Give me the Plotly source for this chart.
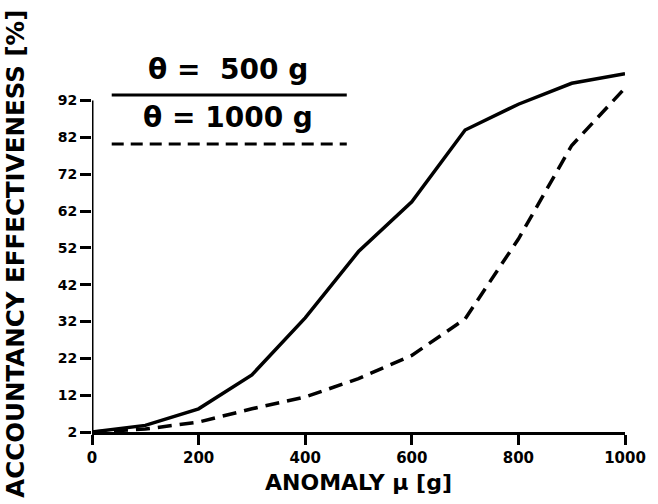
import plotly.graph_objects as go

# Anomaly size (g) and accountancy effectiveness (%) for two threshold values
anomaly = [0, 100, 200, 300, 400, 500, 600, 700, 800, 900, 1000]
eff_500 = [2, 3.8, 8.3, 17.5, 33, 51, 64.5, 84, 91, 96.7, 99.3]
eff_1000 = [2, 2.8, 4.7, 8.3, 11.5, 16.5, 22.8, 32.7, 54.4, 79.8, 95.4]

x_ticks = [0, 200, 400, 600, 800, 1000]
y_ticks = [2, 12, 22, 32, 42, 52, 62, 72, 82, 92]

legend_labels = ["θ =  500 g", "θ = 1000 g"]

FONT = "DejaVu Sans"
INK = "black"

fig = go.Figure()
fig.add_trace(go.Scatter(x=anomaly, y=eff_500, mode="lines",
                         line=dict(color=INK, width=3.5), showlegend=False))
fig.add_trace(go.Scatter(x=anomaly, y=eff_1000, mode="lines",
                         line=dict(color=INK, width=3.5, dash="14px,8px"),
                         showlegend=False))

# vertical axis line only up to the last tick
fig.add_shape(type="line", xref="x", yref="y", x0=0, x1=0, y0=2, y1=92,
              line=dict(color=INK, width=3))

# hand-drawn key in the upper left corner
fig.add_shape(type="line", xref="paper", yref="paper", x0=0.037, x1=0.478,
              y0=0.880, y1=0.880, line=dict(color=INK, width=3))
fig.add_shape(type="line", xref="paper", yref="paper", x0=0.037, x1=0.478,
              y0=0.752, y1=0.752, line=dict(color=INK, width=3, dash="12px,7px"))
for label, ly in zip(legend_labels, [0.946, 0.820]):
    fig.add_annotation(text=label, xref="paper", yref="paper",
                       x=0.255, y=ly, xanchor="center", yanchor="middle",
                       showarrow=False,
                       font=dict(family=FONT, size=28, color=INK, weight="bold"))

# axis titles
fig.add_annotation(text="ACCOUNTANCY EFFECTIVENESS [%]", xref="paper", yref="paper",
                   x=-0.143, y=0.465, xanchor="center", yanchor="middle",
                   textangle=-90, showarrow=False,
                   font=dict(family=FONT, size=24.5, color=INK, weight="bold"))
fig.add_annotation(text="ANOMALY μ [g]", xref="paper", yref="paper",
                   x=0.5, y=-0.132, xanchor="center", yanchor="middle",
                   showarrow=False,
                   font=dict(family=FONT, size=22, color=INK, weight="bold"))

fig.update_xaxes(range=[0, 1000], tickvals=x_ticks, ticks="outside", ticklen=10,
                 tickwidth=3, tickcolor=INK, showline=True, linecolor=INK,
                 linewidth=3, showgrid=False, zeroline=False,
                 tickfont=dict(family=FONT, size=15, color=INK, weight="bold"))
fig.update_yaxes(range=[2, 106], tickvals=y_ticks, ticks="outside", ticklen=11,
                 tickwidth=3, tickcolor=INK, showline=False, showgrid=False,
                 zeroline=False,
                 tickfont=dict(family=FONT, size=14, color=INK, weight="bold"))

fig.update_layout(width=658, height=504, plot_bgcolor="white", paper_bgcolor="white",
                  margin=dict(l=92, r=26, t=49, b=72))

fig.write_html("out.html")
